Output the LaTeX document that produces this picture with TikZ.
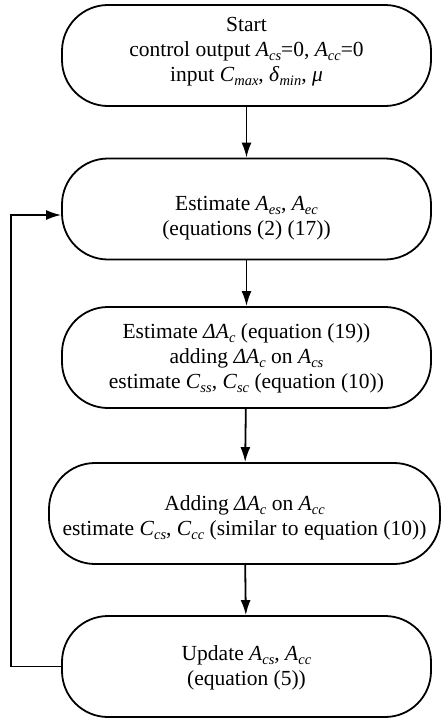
\documentclass[tikz,border=0pt]{standalone}
\usepackage{fontspec}
\setmainfont{Liberation Serif}
\usetikzlibrary{arrows.meta}
\newcommand\vv[2]{\textit{#1}\raisebox{-0.4ex}{\fontsize{14.5}{14.5}\selectfont\textit{#2}}}
\begin{document}
\begin{tikzpicture}[x=1pt,y=-1pt,
  flowbox/.style={draw,line width=1.8pt,rounded corners=46pt,
    inner sep=0pt,minimum width=369pt,minimum height=101pt},
  boxtext/.style={align=center,inner sep=0pt,font=\fontsize{21.5}{25}\selectfont},
  flowarrow/.style={line width=1.8pt,-{Latex[length=15pt,width=10pt]}}]
\useasboundingbox (0,0) rectangle (440,720);
\node[flowbox] (b1) at (246.5,55.5) {};
\node[flowbox] (b2) at (246.5,209) {};
\node[flowbox] (b3) at (246.5,357.5) {};
\node[flowbox,minimum width=391pt] (b4) at (244.5,513.5) {};
\node[flowbox] (b5) at (246.5,666.5) {};
\node[boxtext] (t1) at ([yshift=4pt]b1.center) {Start\\control output \vv{A}{cs}=0, \vv{A}{cc}=0\\input \vv{C}{max}, \vv{δ}{min}, \textit{μ}};
\node[boxtext] (t2) at ([yshift=-9pt]b2.center) {Estimate \vv{A}{es}, \vv{A}{ec}\\(equations (2) (17))};
\node[boxtext] (t3) at ([yshift=-1pt]b3.center) {Estimate \vv{ΔA}{c} (equation (19))\\adding \vv{ΔA}{c} on \vv{A}{cs}\\estimate \vv{C}{ss}, \vv{C}{sc} (equation (10))};
\node[boxtext] (t4) at ([yshift=-4pt]b4.center) {Adding \vv{ΔA}{c} on \vv{A}{cc}\\estimate \vv{C}{cs}, \vv{C}{cc} (similar to equation (10))};
\node[boxtext] (t5) at ([yshift=-1.5pt]b5.center) {Update \vv{A}{cs}, \vv{A}{cc}\\(equation (5))};
\draw[flowarrow] (b1) -- (b2);
\draw[flowarrow] (b2) -- (b3);
\draw[flowarrow] (b3) -- (b4);
\draw[flowarrow] (b4) -- (b5);
\coordinate (loopin) at ([yshift=-6pt]b2.west);
\draw[flowarrow] (b5.west) -- ++(-50,0) |- (loopin);
\end{tikzpicture}
\end{document}
